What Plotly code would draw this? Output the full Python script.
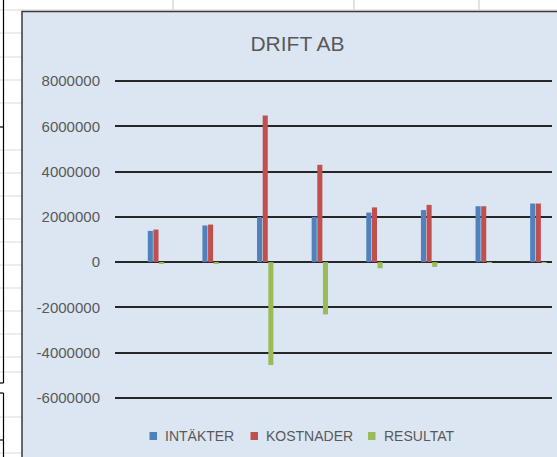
import plotly.graph_objects as go

# ---- data ----
categories = ["1", "2", "3", "4", "5", "6", "7", "8"]
series_names = ["INTÄKTER", "KOSTNADER", "RESULTAT"]
series_colors = ["#4f81bd", "#c0504d", "#9bbb59"]
intakter = [1380000, 1620000, 1990000, 2000000, 2190000, 2300000, 2470000, 2590000]
kostnader = [1440000, 1660000, 6480000, 4300000, 2420000, 2530000, 2470000, 2590000]
resultat = [-60000, -40000, -4550000, -2310000, -270000, -210000, -20000, -10000]
tick_vals = [-6000000, -4000000, -2000000, 0, 2000000, 4000000, 6000000, 8000000]
tick_text = ["-6000000", "-4000000", "-2000000", "0", "2000000", "4000000", "6000000", "8000000"]

W, H = 557, 457
L, R, T, B = 115, 5, 80, 58
PW, PH = W - L - R, H - T - B


def px(x):
    return (x - L) / PW


def py(y):
    return (H - B - y) / PH


grey = "#595959"
fig = go.Figure()
for name, color, vals in zip(series_names, series_colors, [intakter, kostnader, resultat]):
    fig.add_bar(x=categories, y=vals, name=name, marker_color=color, marker_line_width=0)

shapes = []
annotations = []
# spreadsheet background lines
light = "#d9d9d9"
for yy in [10, 33, 57, 80, 103, 150, 173, 196, 219, 242, 265, 288, 311, 334, 357, 372, 417, 453]:
    shapes.append(dict(type="line", xref="paper", yref="paper", x0=px(0), x1=px(22),
                       y0=py(yy), y1=py(yy), line=dict(color=light, width=1), layer="below"))
for xx in [173, 354, 479]:
    shapes.append(dict(type="line", xref="paper", yref="paper", x0=px(xx), x1=px(xx),
                       y0=py(0), y1=py(10), line=dict(color=light, width=1.5), layer="below"))
shapes.append(dict(type="line", xref="paper", yref="paper", x0=px(22), x1=px(560),
                   y0=py(10), y1=py(10), line=dict(color=light, width=1), layer="below"))
# black cell borders at far left
for (a, b) in [(0, 383), (393, 460)]:
    shapes.append(dict(type="line", xref="paper", yref="paper", x0=px(3.5), x1=px(3.5),
                       y0=py(a), y1=py(b), line=dict(color="#000000", width=1.2), layer="below"))
for yy in [127, 383, 393, 440]:
    shapes.append(dict(type="line", xref="paper", yref="paper", x0=px(0), x1=px(3.5),
                       y0=py(yy), y1=py(yy), line=dict(color="#000000", width=1.2), layer="below"))
# chart area
shapes.append(dict(type="rect", xref="paper", yref="paper", x0=px(22), x1=px(600),
                   y0=py(500), y1=py(11.5), fillcolor="#dce6f2",
                   line=dict(color="#3a3a3a", width=1.5), layer="below"))

# legend (drawn as Excel-style small squares + labels)
legend_x = [149.5, 250.5, 368]
for name, color, lx in zip(series_names, series_colors, legend_x):
    shapes.append(dict(type="rect", xref="paper", yref="paper", x0=px(lx), x1=px(lx + 7.5),
                       y0=py(440), y1=py(432), fillcolor=color, line=dict(width=0)))
    annotations.append(dict(text=name, xref="paper", yref="paper", x=px(lx + 13.5), y=py(436),
                            xanchor="left", yanchor="middle", showarrow=False,
                            font=dict(size=14, color=grey)))

fig.update_layout(
    width=W, height=H,
    margin=dict(l=L, r=R, t=T, b=B),
    paper_bgcolor="#ffffff",
    plot_bgcolor="rgba(0,0,0,0)",
    barmode="group",
    bargap=0.69,
    bargroupgap=0.1,
    showlegend=False,
    font=dict(family="Liberation Sans, Arial, sans-serif", color=grey),
    title=dict(text="DRIFT AB", font=dict(size=21, color=grey),
               x=px(297.5), xref="paper", xanchor="center",
               y=1 - 44 / H, yref="container", yanchor="middle"),
    xaxis=dict(type="category", range=[-0.75, 7.25], showticklabels=False,
               showgrid=False, zeroline=False, showline=False, ticks=""),
    yaxis=dict(range=[-6050000, 8050000], tickvals=tick_vals, ticktext=tick_text,
               showgrid=True, gridcolor="#262626", gridwidth=1.5,
               zeroline=False, showline=False, ticks="",
               tickfont=dict(size=15, color=grey), ticklabelstandoff=14),
    shapes=shapes,
    annotations=annotations,
)

fig.write_html("out.html", config={"displayModeBar": False},
               post_script="document.body.style.margin='0';document.body.style.overflow='hidden';")
